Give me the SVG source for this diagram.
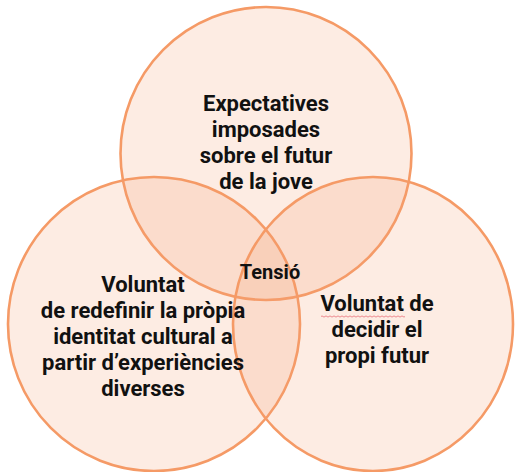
<svg xmlns="http://www.w3.org/2000/svg" width="516" height="472" viewBox="0 0 516 472">
<style>
.c{fill:#f6a272;fill-opacity:0.2;stroke:#f59a66;stroke-width:2.6}
.t{font-family:Roboto,"Liberation Sans",Arial,sans-serif;font-weight:bold;font-size:22px;fill:#111;text-anchor:middle}
</style>
<rect width="516" height="472" fill="#fff"/>
<g id="top">
<ellipse class="c" cx="266" cy="153.5" rx="145.5" ry="146.5"/>
</g>
<g id="left">
<ellipse class="c" cx="154" cy="324" rx="146" ry="147"/>
</g>
<g id="right">
<ellipse class="c" cx="373" cy="324" rx="140" ry="147"/>
</g>
<g id="top-label">
<text class="t" x="266" y="111">Expectatives</text>
<text class="t" x="266" y="137">imposades</text>
<text class="t" x="266" y="163">sobre el futur</text>
<text class="t" x="266" y="189">de la jove</text>
</g>
<g id="left-label">
<text class="t" x="143" y="292">Voluntat</text>
<text class="t" x="143" y="318">de redefinir la pròpia</text>
<text class="t" x="143" y="344">identitat cultural a</text>
<text class="t" x="143" y="370">partir d’experiències</text>
<text class="t" x="143" y="396">diverses</text>
</g>
<g id="right-label">
<text class="t" x="377" y="311">Voluntat de</text>
<text class="t" x="377" y="337">decidir el</text>
<text class="t" x="377" y="363">propi futur</text>
<path d="M321 316.5 q1 -1.2 2 0 t2 0 t2 0 t2 0 t2 0 t2 0 t2 0 t2 0 t2 0 t2 0 t2 0 t2 0 t2 0 t2 0 t2 0 t2 0 t2 0 t2 0 t2 0 t2 0 t2 0 t2 0 t2 0 t2 0 t2 0 t2 0 t2 0 t2 0 t2 0 t2 0 t2 0 t2 0 t2 0 t2 0 t2 0 t2 0 t2 0 t2 0 t2 0 t2 0 t2 0 t2 0" fill="none" stroke="#e8707a" stroke-width="0.8"/>
</g>
<g id="center">
<text class="t" x="270" y="279" style="font-size:20px">Tensió</text>
</g>
</svg>
